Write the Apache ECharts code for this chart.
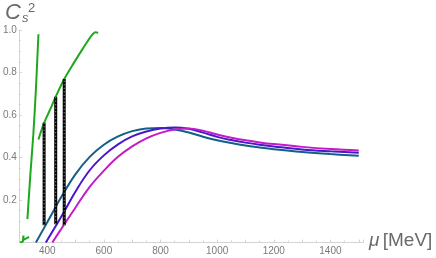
<!DOCTYPE html>
<html>
<head>
<meta charset="utf-8">
<script src="https://cdn.jsdelivr.net/npm/echarts@6/dist/echarts.min.js"></script>
<style>html,body{margin:0;padding:0;background:#fff;}#c{width:436px;height:258px;}</style>
</head>
<body>
<div id="c"></div>
<script>
// Data
const tealCurve = [[360,0],[400,0.095],[450,0.215],[500,0.322],[550,0.403],[600,0.46],[650,0.499],[700,0.524],[750,0.537],[800,0.539],[850,0.532],[900,0.518],[950,0.498],[1000,0.481],[1050,0.468],[1100,0.456],[1150,0.447],[1200,0.439],[1300,0.426],[1400,0.416],[1500,0.408]];
const purpleCurve = [[395,0],[450,0.122],[500,0.24],[550,0.34],[600,0.41],[650,0.462],[700,0.499],[750,0.522],[800,0.536],[850,0.541],[900,0.535],[950,0.517],[1000,0.497],[1050,0.482],[1100,0.47],[1150,0.46],[1200,0.452],[1300,0.438],[1400,0.429],[1500,0.422]];
const magentaCurve = [[418,0],[450,0.065],[500,0.165],[550,0.262],[600,0.338],[650,0.403],[700,0.452],[750,0.49],[800,0.516],[850,0.532],[900,0.537],[950,0.526],[1000,0.508],[1050,0.493],[1100,0.481],[1150,0.471],[1200,0.463],[1300,0.45],[1400,0.44],[1500,0.433]];
const greenSteep = [[330,0.11],[341,0.33],[351,0.51],[360,0.72],[369,0.98]];
const greenUpper = [[369,0.485],[389,0.563],[410,0.625],[430,0.686],[460,0.769],[493,0.843],[528,0.917],[557,0.975],[570,0.99],[580,0.987]];
const greenBottom = [[304,0],[314,0.004],[316,0.033],[316,0.012],[336,0.026]];
const dashX = [389, 430, 460];
const dashTop = [0.563, 0.686, 0.769];
const dashBottom = [0.081, 0.086, 0.081];
const xTickValues = [400, 600, 800, 1000, 1200, 1400];
const yTickValues = [0.2, 0.4, 0.6, 0.8, 1.0];

const chart = echarts.init(document.getElementById('c'), null, {renderer: 'canvas'});
const gray = '#7a7a7a';
const axisGray = '#d4d4d4';

function lineSeries(data, color, width, smooth) {
  return {type: 'line', data: data, showSymbol: false, symbol: 'none', smooth: smooth,
    lineStyle: {color: color, width: width}, z: 2, animation: false, clip: true};
}
const series = [
  lineSeries(tealCurve, '#145f86', 2, 0.4),
  lineSeries(purpleCurve, '#4a18cc', 2, 0.4),
  lineSeries(magentaCurve, '#c21bc8', 2, 0.4),
  lineSeries(greenSteep, '#1ea81e', 2, 0.3),
  lineSeries(greenUpper, '#1ea81e', 2, 0.3),
  lineSeries(greenBottom, '#1ea81e', 2, false)
];
dashX.forEach(function (x, i) {
  const seg = [[x, dashBottom[i]], [x, dashTop[i]]];
  series.push({type: 'line', data: seg, showSymbol: false, symbol: 'none', animation: false,
    lineStyle: {color: '#000', width: 3}, z: 3});
  series.push({type: 'line', data: seg, showSymbol: false, symbol: 'none', animation: false,
    lineStyle: {color: '#fff', width: 0.7, type: [1, 2.5]}, z: 4});
});

chart.setOption({
  animation: false,
  grid: {left: 15, right: 73, top: 30, bottom: 15.5, containLabel: false},
  xAxis: {
    type: 'value', min: 300, max: 1515, interval: 100,
    axisLine: {show: true, onZero: false, lineStyle: {color: axisGray, width: 1}},
    axisTick: {show: true, inside: true, length: 3, lineStyle: {color: axisGray}},
    minorTick: {show: true, splitNumber: 2, length: 2, lineStyle: {color: axisGray}},
    splitLine: {show: false},
    axisLabel: {color: gray, fontSize: 10, fontFamily: 'Liberation Sans', margin: 4,
      showMaxLabel: false,
      formatter: function (v) { return xTickValues.indexOf(v) >= 0 ? String(v) : ''; }}
  },
  yAxis: {
    type: 'value', min: 0, max: 1.0, interval: 0.2,
    axisLine: {show: true, lineStyle: {color: axisGray, width: 1}},
    axisTick: {show: true, inside: true, length: 3, lineStyle: {color: axisGray}},
    minorTick: {show: true, splitNumber: 4, length: 2, lineStyle: {color: axisGray}},
    splitLine: {show: false},
    axisLabel: {color: gray, fontSize: 10, fontFamily: 'Liberation Sans', margin: 2,
      formatter: function (v) {
        for (let k = 0; k < yTickValues.length; k++) { if (Math.abs(yTickValues[k] - v) < 1e-9) return v.toFixed(1); }
        return '';
      }}
  },
  graphic: [
    {type: 'text', left: 5, top: 2, style: {
      text: '{c|C}{s|s}', rich: {
        c: {fontSize: 22, fontStyle: 'italic', fill: '#6a6a6a', fontFamily: 'Liberation Sans'},
        s: {fontSize: 13, fontStyle: 'italic', fill: '#6a6a6a', fontFamily: 'Liberation Sans', padding: [10, 0, 0, 1]}
      }}},
    {type: 'text', left: 28, top: 2, style: {text: '2', fontSize: 13, fill: '#6a6a6a', fontFamily: 'Liberation Sans'}},
    {type: 'text', left: 369, top: 231, style: {
      text: '{m|μ} {t|[MeV]}', rich: {
        m: {fontSize: 19, fontStyle: 'italic', fill: '#6a6a6a', fontFamily: 'Liberation Sans'},
        t: {fontSize: 19, fill: '#6a6a6a', fontFamily: 'Liberation Sans'}
      }}}
  ],
  series: series
});
</script>
</body>
</html>
